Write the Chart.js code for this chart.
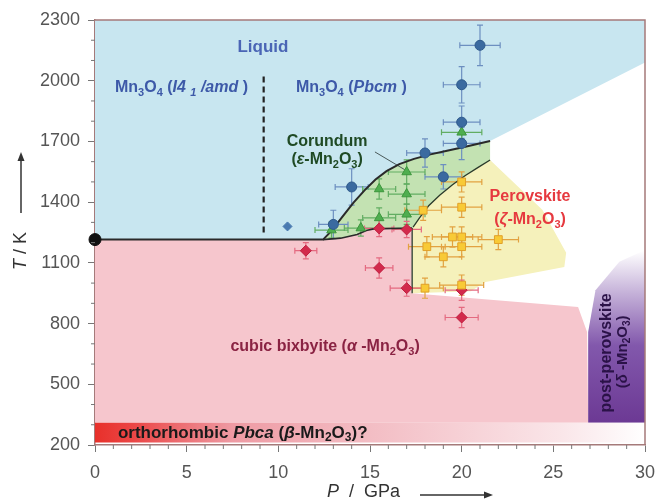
<!DOCTYPE html>
<html>
<head>
<meta charset="utf-8">
<script src="https://cdn.jsdelivr.net/npm/chart.js@4.4.1/dist/chart.umd.min.js"></script>
<style>
  html, body { margin: 0; padding: 0; background: #fff; }
</style>
</head>
<body>
<canvas id="myChart" width="657" height="501"></canvas>
<script>
// Mn2O3 phase diagram - P in GPa, T in K

const FONT = 'Liberation Sans, Arial, sans-serif';

// measured points (with error bars)
const bluePoints = { P: [21, 20, 20, 20, 18, 19, 14, 13], T: [2175, 1980, 1795, 1690, 1643, 1525, 1475, 1290] };
const blueErrP = [1.1, 1.0, 1.0, 1.0, 1.0, 1.0, 0.9, 0.8];
const blueErrT = [100, 90, 80, 80, 70, 60, 90, 70];

const greenPoints = { P: [12.9, 14.5, 15.5, 15.5, 17, 17, 17, 20], T: [1262, 1272, 1322, 1465, 1340, 1440, 1549, 1745] };
const greenErrP = [0.9, 0.9, 0.9, 0.9, 1.0, 1.0, 1.0, 1.1];
const greenErrT = [40, 40, 50, 50, 50, 50, 60, 60];

const yellowPoints = { P: [20, 20, 17.9, 22, 19.5, 20, 20, 18.1, 19, 18, 20], T: [1500, 1375, 1360, 1215, 1228, 1228, 1180, 1180, 1130, 975, 990] };
const yellowErrP = [1.1, 1.1, 1.0, 1.1, 1.1, 1.1, 1.1, 1.0, 1.0, 1.0, 1.2];
const yellowErrT = [50, 50, 50, 50, 50, 50, 50, 50, 50, 50, 50];

const redPoints = { P: [11.5, 15.5, 17, 20, 15.5, 17, 20], T: [1160, 1075, 975, 830, 1270, 1265, 965] };
const redErrP = [0.6, 0.75, 0.9, 0.9, 0.8, 0.8, 0.9];
const redErrT = [40, 50, 40, 50, 40, 40, 50];

const extraBlue = { P: [10.5], T: [1280] };
const startPoint = { P: [0], T: [1215] };

// phase boundaries
const flatLineP = [0, 12.44];
const flatLineT = [1215, 1215];
const upperCurveP = [12.44, 12.9, 13.5, 14.1, 14.7, 15.3, 15.9, 16.6, 17.4, 18.3, 19.2, 20.2, 21.55];
const upperCurveT = [1215, 1258, 1328, 1398, 1458, 1512, 1553, 1588, 1614, 1636, 1654, 1674, 1702];
const lowerCurveP = [17.35, 17.7, 18.2, 18.8, 19.5, 20.2, 20.9, 21.55];
const lowerCurveT = [1277, 1322, 1382, 1434, 1486, 1532, 1572, 1608];
const bixTopP = [12.44, 13.4, 14.3, 14.8, 15.2, 17.3];
const bixTopT = [1215, 1222, 1240, 1260, 1268, 1272];
const verticalP = [17.3, 17.3];
const verticalT = [1272, 950];
const dashedP = [9.2, 9.2];
const dashedT = [1250, 2040];
const leaderP = [15.27, 16.9];
const leaderT = [1648, 1560];

// tick values
const xTicks = [0, 5, 10, 15, 20, 25, 30];
const yTicks = [200, 500, 800, 1100, 1400, 1700, 2000, 2300];

const pairs = (P, T) => P.map((p, i) => ({ x: p, y: T[i] }));
const rev = a => a.slice().reverse();

// region outlines (data coords)
const blueRegion = [[0, 1215], [0, 2300], [30, 2300], [30, 2090]]
  .concat(rev(upperCurveP).map((p, i) => [p, rev(upperCurveT)[i]]));
const greenRegion = upperCurveP.map((p, i) => [p, upperCurveT[i]])
  .concat(rev(lowerCurveP).map((p, i) => [p, rev(lowerCurveT)[i]]))
  .concat(rev(bixTopP).map((p, i) => [p, rev(bixTopT)[i]]));
const yellowRegion = [[17.3, 1272]]
  .concat(lowerCurveP.map((p, i) => [p, lowerCurveT[i]]))
  .concat([[24.4, 1363], [25.7, 1150], [25.6, 1080], [21.3, 1005], [20.5, 960], [17.3, 950]]);
const pinkRegion = [[0, 310], [0, 1215]]
  .concat(bixTopP.map((p, i) => [p, bixTopT[i]]))
  .concat([[17.3, 950], [26.35, 882], [26.84, 758], [26.9, 310]]);
const purpleRegion = [[26.9, 310], [26.9, 758], [27.3, 965], [28.6, 1106], [30, 1163], [30, 310]];
const bandRegion = [[0, 212], [0, 310], [30, 310], [30, 212]];

// labels
const labels = [
  { p: 9.16, t: 2167, size: 17, color: '#4a65b5', segs: [['Liquid', '']] },
  { p: 1.09, t: 1964, size: 16, color: '#3d59a8', align: 'left', segs: [['Mn', ''], ['3', 's'], ['O', ''], ['4', 's'], [' (', ''], ['I4 ', 'i'], ['1', 'si'], [' /amd', 'i'], [' )', '']] },
  { p: 10.96, t: 1964, size: 16, color: '#3d59a8', align: 'left', segs: [['Mn', ''], ['3', 's'], ['O', ''], ['4', 's'], [' (', ''], ['Pbcm', 'i'], [' )', '']] },
  { p: 12.66, t: 1697, size: 16, color: '#1f4a24', segs: [['Corundum', '']] },
  { p: 12.66, t: 1608, size: 16, color: '#1f4a24', segs: [['(', ''], ['ε', 'i'], ['-Mn', ''], ['2', 's'], ['O', ''], ['3', 's'], [')', '']] },
  { p: 23.73, t: 1425, size: 16, color: '#e6393f', segs: [['Perovskite', '']] },
  { p: 23.73, t: 1312, size: 16, color: '#e6393f', segs: [['(', ''], ['ζ', 'i'], ['-Mn', ''], ['2', 's'], ['O', ''], ['3', 's'], [')', '']] },
  { p: 12.55, t: 684, size: 16, color: '#8a2343', segs: [['cubic bixbyite (', ''], ['α', 'i'], [' -Mn', ''], ['2', 's'], ['O', ''], ['3', 's'], [')', '']] },
  { p: 1.25, t: 259, size: 17, color: '#1a1a1a', align: 'left', segs: [['orthorhombic ', ''], ['Pbca', 'i'], [' (', ''], ['β', 'i'], ['-Mn', ''], ['2', 's'], ['O', ''], ['3', 's'], [')?', '']] },
  { p: 27.93, t: 655, size: 16, color: '#2b1248', rot: true, segs: [['post-perovskite', '']] },
  { p: 28.8, t: 660, size: 15, color: '#2b1248', rot: true, segs: [['(', ''], ['δ', 'i'], [' -Mn', ''], ['2', 's'], ['O', ''], ['3', 's'], [')', '']] }
];

// rich text (italic / subscript pieces)
function drawRich(ctx, segs, x, y, size, color, align) {
  let total = 0;
  const parts = segs.map(([txt, f]) => {
    const sub = f.includes('s');
    const it = f.includes('i');
    const font = `${it ? 'italic ' : ''}bold ${sub ? Math.round(size * 0.68) : size}px ${FONT}`;
    ctx.font = font;
    const w = ctx.measureText(txt).width;
    total += w;
    return { txt, font, w, dy: sub ? size * 0.3 : 0 };
  });
  let cx = align === 'left' ? x : x - total / 2;
  ctx.fillStyle = color;
  ctx.textAlign = 'left';
  ctx.textBaseline = 'middle';
  parts.forEach(p => {
    ctx.font = p.font;
    ctx.fillText(p.txt, cx, y + p.dy);
    cx += p.w;
  });
}

function polyPath(ctx, chart, pts) {
  const sx = chart.scales.x, sy = chart.scales.y;
  ctx.beginPath();
  pts.forEach(([p, t], i) => {
    const px = sx.getPixelForValue(p), py = sy.getPixelForValue(t);
    if (i === 0) ctx.moveTo(px, py); else ctx.lineTo(px, py);
  });
  ctx.closePath();
}

const regionsPlugin = {
  id: 'regions',
  beforeDatasetsDraw(chart) {
    const { ctx, chartArea: a, scales: { x, y } } = chart;
    ctx.save();
    ctx.beginPath();
    ctx.rect(a.left, a.top, a.right - a.left, a.bottom - a.top);
    ctx.clip();

    polyPath(ctx, chart, blueRegion); ctx.fillStyle = '#c8e6f0'; ctx.fill();
    polyPath(ctx, chart, pinkRegion); ctx.fillStyle = '#f6c6cd'; ctx.fill();
    polyPath(ctx, chart, yellowRegion); ctx.fillStyle = '#f5f1bb'; ctx.fill();
    polyPath(ctx, chart, greenRegion); ctx.fillStyle = '#c3e2b2'; ctx.fill();

    const gp = ctx.createLinearGradient(0, y.getPixelForValue(310), 0, y.getPixelForValue(1160));
    gp.addColorStop(0, '#6c3994');
    gp.addColorStop(0.45, '#8258ac');
    gp.addColorStop(0.75, '#c4b0d8');
    gp.addColorStop(1, '#ffffff');
    polyPath(ctx, chart, purpleRegion); ctx.fillStyle = gp; ctx.fill();

    const gb = ctx.createLinearGradient(x.getPixelForValue(0), 0, x.getPixelForValue(30), 0);
    gb.addColorStop(0, '#e8302a');
    gb.addColorStop(0.07, '#eb4646');
    gb.addColorStop(0.25, '#ee9aa3');
    gb.addColorStop(0.5, '#f3bdc4');
    gb.addColorStop(0.85, '#fae6e9');
    gb.addColorStop(1, '#ffffff');
    polyPath(ctx, chart, bandRegion); ctx.fillStyle = gb; ctx.fill();

    // error bars
    const series = [
      [bluePoints, blueErrP, blueErrT, '#6d8fc0'],
      [greenPoints, greenErrP, greenErrT, '#62ad62'],
      [yellowPoints, yellowErrP, yellowErrT, '#e2a241'],
      [redPoints, redErrP, redErrT, '#e46a80']
    ];
    ctx.lineWidth = 1.2;
    series.forEach(([s, eP, eT, col]) => {
      ctx.strokeStyle = col;
      s.P.forEach((p, i) => {
        const cx = x.getPixelForValue(p), cy = y.getPixelForValue(s.T[i]);
        const x0 = x.getPixelForValue(p - eP[i]), x1 = x.getPixelForValue(p + eP[i]);
        const y0 = y.getPixelForValue(s.T[i] - eT[i]), y1 = y.getPixelForValue(s.T[i] + eT[i]);
        ctx.beginPath();
        ctx.moveTo(x0, cy); ctx.lineTo(x1, cy);
        ctx.moveTo(cx, y0); ctx.lineTo(cx, y1);
        ctx.moveTo(x0, cy - 3); ctx.lineTo(x0, cy + 3);
        ctx.moveTo(x1, cy - 3); ctx.lineTo(x1, cy + 3);
        ctx.moveTo(cx - 3, y0); ctx.lineTo(cx + 3, y0);
        ctx.moveTo(cx - 3, y1); ctx.lineTo(cx + 3, y1);
        ctx.stroke();
      });
    });
    ctx.restore();
  },
  afterDatasetsDraw(chart) {
    const { ctx, scales: { x, y } } = chart;
    ctx.save();
    labels.forEach(l => {
      const px = x.getPixelForValue(l.p), py = y.getPixelForValue(l.t);
      if (l.rot) {
        ctx.save();
        ctx.translate(px, py);
        ctx.rotate(-Math.PI / 2);
        drawRich(ctx, l.segs, 0, 0, l.size, l.color, 'center');
        ctx.restore();
      } else {
        drawRich(ctx, l.segs, px, py, l.size, l.color, l.align);
      }
    });
    ctx.restore();
  },
  afterDraw(chart) {
    const { ctx, chartArea: a, scales: { x, y } } = chart;
    ctx.save();
    // frame top / right
    ctx.strokeStyle = '#a57a7a';
    ctx.lineWidth = 1.5;
    ctx.beginPath();
    ctx.moveTo(a.left, a.top); ctx.lineTo(a.right, a.top); ctx.lineTo(a.right, a.bottom);
    ctx.stroke();

    // minor ticks
    ctx.strokeStyle = '#777';
    ctx.lineWidth = 1;
    ctx.beginPath();
    for (let p = 0; p <= 30; p++) {
      if (p % 5 === 0) continue;
      const px = x.getPixelForValue(p);
      ctx.moveTo(px, a.bottom); ctx.lineTo(px, a.bottom + 4);
    }
    for (let t = 200; t <= 2300; t += 100) {
      if ((t - 200) % 300 === 0) continue;
      const py = y.getPixelForValue(t);
      ctx.moveTo(a.left - 4, py); ctx.lineTo(a.left, py);
    }
    ctx.stroke();

    // axis titles with arrows
    ctx.fillStyle = '#333';
    ctx.strokeStyle = '#333';
    ctx.lineWidth = 1.5;
    ctx.save();
    ctx.translate(a.left - 74, 251);
    ctx.rotate(-Math.PI / 2);
    ctx.textAlign = 'left';
    ctx.textBaseline = 'middle';
    ctx.font = `italic 18px ${FONT}`;
    const wT = ctx.measureText('T').width;
    ctx.font = `18px ${FONT}`;
    const wR = ctx.measureText(' / K').width;
    let sx = -(wT + wR) / 2;
    ctx.font = `italic 18px ${FONT}`;
    ctx.fillText('T', sx, 0);
    ctx.font = `18px ${FONT}`;
    ctx.fillText(' / K', sx + wT, 0);
    ctx.restore();

    ctx.beginPath();
    ctx.moveTo(a.left - 74, 213); ctx.lineTo(a.left - 74, 158);
    ctx.stroke();
    ctx.beginPath();
    ctx.moveTo(a.left - 74, 152); ctx.lineTo(a.left - 77.5, 161); ctx.lineTo(a.left - 70.5, 161);
    ctx.closePath(); ctx.fill();

    ctx.textBaseline = 'middle';
    ctx.textAlign = 'left';
    ctx.font = `italic 18px ${FONT}`;
    ctx.fillText('P', 327, 492);
    const wP = ctx.measureText('P').width;
    ctx.font = `18px ${FONT}`;
    ctx.fillText('  /  GPa', 327 + wP, 492);
    ctx.beginPath();
    ctx.moveTo(420, 495); ctx.lineTo(486, 495);
    ctx.stroke();
    ctx.beginPath();
    ctx.moveTo(493, 495); ctx.lineTo(484, 491.5); ctx.lineTo(484, 498.5);
    ctx.closePath(); ctx.fill();
    ctx.restore();
  }
};

const ctx = document.getElementById('myChart').getContext('2d');

const boundaryLine = (P, T, color, width, dash) => ({
  type: 'scatter',
  data: pairs(P, T),
  showLine: true,
  borderColor: color,
  borderWidth: width,
  borderDash: dash || [],
  pointRadius: 0,
  fill: false,
  order: 5
});

const myChart = new Chart(ctx, {
  type: 'scatter',
  data: {
    datasets: [
      boundaryLine(flatLineP.concat(upperCurveP.slice(1)), flatLineT.concat(upperCurveT.slice(1)), '#2a2a2a', 2),
      boundaryLine(lowerCurveP, lowerCurveT, '#2a3a2a', 1.3),
      boundaryLine(bixTopP, bixTopT, '#2a2a2a', 1.6),
      boundaryLine(verticalP, verticalT, '#3a4a3a', 1.4),
      boundaryLine(dashedP, dashedT, '#222', 2.2, [6, 4]),
      boundaryLine(leaderP, leaderT, '#4a5a5a', 1),
      {
        data: pairs(yellowPoints.P, yellowPoints.T),
        pointStyle: 'rect', pointRadius: 5.5,
        backgroundColor: '#f8ca36', borderColor: '#e0a02a', borderWidth: 1, order: 1
      },
      {
        data: pairs(redPoints.P, redPoints.T),
        pointStyle: 'rectRot', pointRadius: 5.5,
        backgroundColor: '#d22a4c', borderColor: '#c01f40', borderWidth: 1, order: 2
      },
      {
        data: pairs(greenPoints.P, greenPoints.T),
        pointStyle: 'triangle', pointRadius: 5.5,
        backgroundColor: '#4fae4f', borderColor: '#3c963c', borderWidth: 1, order: 1
      },
      {
        data: pairs(bluePoints.P, bluePoints.T),
        pointStyle: 'circle', pointRadius: 5,
        backgroundColor: '#3b6aa0', borderColor: '#2f5a8c', borderWidth: 1, order: 0
      },
      {
        data: pairs(extraBlue.P, extraBlue.T),
        pointStyle: 'rectRot', pointRadius: 4.5,
        backgroundColor: '#4a7ab0', borderColor: '#4a7ab0', borderWidth: 1, order: 0
      },
      {
        data: pairs(startPoint.P, startPoint.T),
        pointStyle: 'circle', pointRadius: 6,
        backgroundColor: '#111', borderColor: '#111', borderWidth: 1, order: 0, clip: false
      }
    ]
  },
  options: {
    responsive: false,
    animation: false,
    layout: { padding: { top: 20, right: 12, left: 0, bottom: 0 } },
    plugins: {
      legend: { display: false },
      tooltip: { enabled: false }
    },
    scales: {
      x: {
        type: 'linear', min: 0, max: 30,
        afterFit: s => { s.height = 56; s.paddingLeft = 0; s.paddingRight = 0; },
        afterBuildTicks: s => { s.ticks = xTicks.map(v => ({ value: v })); },
        ticks: { color: '#555', font: { family: FONT, size: 18 }, padding: 10, maxRotation: 0, callback: v => String(v) },
        grid: { drawOnChartArea: false, tickLength: 7, tickColor: '#777' },
        border: { display: true, color: '#a57a7a', width: 1.5 }
      },
      y: {
        type: 'linear', min: 200, max: 2300,
        afterFit: s => { s.width = 95; s.paddingTop = 0; s.paddingBottom = 0; },
        afterBuildTicks: s => { s.ticks = yTicks.map(v => ({ value: v })); },
        ticks: { color: '#555', font: { family: FONT, size: 18 }, padding: 8, callback: v => String(v) },
        grid: { drawOnChartArea: false, tickLength: 7, tickColor: '#777' },
        border: { display: true, color: '#a57a7a', width: 1.5 }
      }
    }
  },
  plugins: [regionsPlugin]
});

window.myChart = myChart;
</script>
</body>
</html>
